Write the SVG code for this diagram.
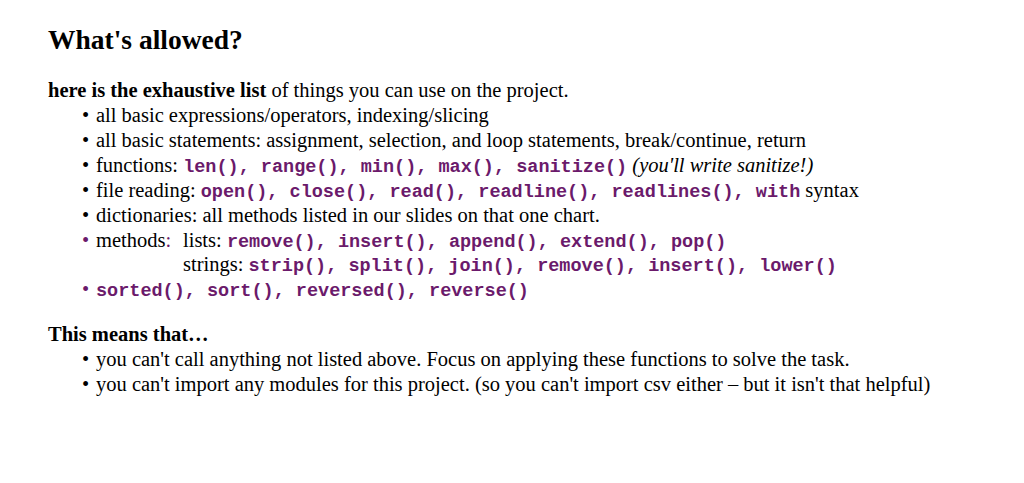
<svg xmlns="http://www.w3.org/2000/svg" width="1024" height="483" viewBox="0 0 1024 483">
<style>
.t{font-family:"Liberation Serif",serif;font-size:20.5px;fill:#000}
.c{font-family:"Liberation Mono",monospace;font-weight:bold;fill:#6b1a6b;font-size:18.5px}
.b{font-weight:bold}
.p{fill:#6b1a6b}
</style>
<rect width="1024" height="483" fill="#fff"/>
<g id="title"><text x="48" y="49" class="t b" style="font-size:27.5px">What's allowed?</text></g>
<g id="list">
<text x="48" y="97" class="t"><tspan class="b">here is the exhaustive list</tspan> of things you can use on the project.</text>
<text x="82" y="122" class="t">•</text><text x="96" y="122" class="t">all basic expressions/operators, indexing/slicing</text>
<text x="82" y="147" class="t">•</text><text x="96" y="147" class="t">all basic statements: assignment, selection, and loop statements, break/continue, return</text>
<text x="82" y="172" class="t">•</text><text x="96" y="172" class="t">functions: <tspan class="c">len(), range(), min(), max(), sanitize()</tspan> <tspan font-style="italic">(you'll write sanitize!)</tspan></text>
<text x="82" y="197" class="t">•</text><text x="96" y="197" class="t">file reading: <tspan class="c">open(), close(), read(), readline(), readlines(), with</tspan> syntax</text>
<text x="82" y="222" class="t">•</text><text x="96" y="222" class="t">dictionaries: all methods listed in our slides on that one chart.</text>
<text x="82" y="247" class="t p">•</text><text x="96" y="247" class="t">methods<tspan class="p">:</tspan></text>
<text x="183" y="247" class="t">lists: <tspan class="c">remove(), insert(), append(), extend(), pop()</tspan></text>
<text x="183" y="271" class="t">strings: <tspan class="c">strip(), split(), join(), remove(), insert(), lower()</tspan></text>
<text x="82" y="296" class="t p">•</text><text x="96" y="296" class="c">sorted(), sort(), reversed(), reverse()</text>
</g>
<g id="means">
<text x="48" y="341" class="t b">This means that…</text>
<text x="82" y="366" class="t">•</text><text x="96" y="366" class="t">you can't call anything not listed above. Focus on applying these functions to solve the task.</text>
<text x="82" y="391" class="t">•</text><text x="96" y="391" class="t">you can't import any modules for this project. (so you can't import csv either – but it isn't that helpful)</text>
</g>
</svg>
